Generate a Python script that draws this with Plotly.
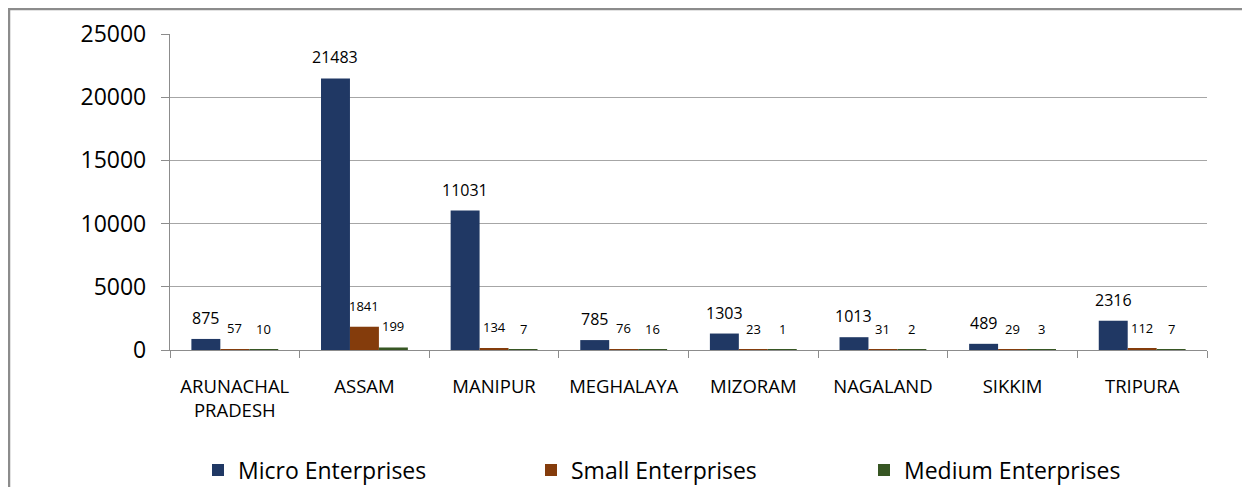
import plotly.graph_objects as go

states = ["ARUNACHAL<br>PRADESH", "ASSAM", "MANIPUR", "MEGHALAYA", "MIZORAM", "NAGALAND", "SIKKIM", "TRIPURA"]
micro = [875, 21483, 11031, 785, 1303, 1013, 489, 2316]
small = [57, 1841, 134, 76, 23, 31, 29, 112]
medium = [10, 199, 7, 16, 1, 2, 3, 7]
series_names = ["Micro Enterprises", "Small Enterprises", "Medium Enterprises"]
series_colors = ["#203864", "#843C0C", "#375623"]
y_ticks = [0, 5000, 10000, 15000, 20000, 25000]

# page has an 8px body margin; figure coords = page coords - 8
OFF = 8
W, H = 1250 - OFF, 487 - OFF
ML, MT = 170 - OFF, 34 - OFF
MR = W - (1207 - OFF)
MB = H - (350 - OFF)
PW, PH = W - ML - MR, H - MT - MB
BARGAP = 0.33
FONT = "Open Sans"

fig = go.Figure()
for name, vals, col in zip(series_names, [micro, small, medium], series_colors):
    fig.add_trace(go.Bar(x=states, y=vals, name=name, marker_color=col,
                         marker_line_width=0))

cat_px = PW / len(states)
bar_px = cat_px * (1 - BARGAP) / 3
annotations = []
for si, vals in enumerate([micro, small, medium]):
    for xi, v in zip(states, vals):
        annotations.append(dict(
            x=xi, y=v, xref="x", yref="y", text=str(v), showarrow=False,
            xshift=(si - 1) * bar_px, yshift=21, yanchor="middle",
            font=dict(family=FONT, size=16 if si == 0 else 13, color="#000000")))

def px2x(px):
    return (px - OFF - ML) / PW

def py2y(py):
    return (H - MB - (py - OFF)) / PH

shapes = [dict(type="rect", xref="paper", yref="paper",
               x0=px2x(OFF + 1.0), x1=px2x(1400), y0=py2y(OFF + 1.0), y1=py2y(700),
               line=dict(color="#8c8c8c", width=2.5), fillcolor="rgba(0,0,0,0)", layer="above")]

fig.update_layout(
    width=W, height=H,
    margin=dict(l=ML, r=MR, t=MT, b=MB, pad=0, autoexpand=False),
    paper_bgcolor="white", plot_bgcolor="white",
    barmode="group", bargap=BARGAP, bargroupgap=0,
    font=dict(family=FONT, color="#000000"),
    showlegend=True,
    legend=dict(orientation="h", x=px2x(198), xanchor="left", y=py2y(470), yanchor="middle",
                font=dict(family=FONT, size=23, color="#000000"),
                entrywidth=288, entrywidthmode="pixels", traceorder="normal",
                bgcolor="rgba(0,0,0,0)"),
    annotations=annotations,
    shapes=shapes,
    xaxis=dict(type="category", showline=True, linecolor="#8c8c8c", linewidth=1.3,
               ticks="outside", tickson="boundaries", ticklen=7, tickcolor="#8c8c8c",
               tickfont=dict(family=FONT, size=18.5, color="#000000"),
               ticklabelstandoff=20, showgrid=False, zeroline=False, automargin=False),
    yaxis=dict(range=[0, 25000], tickvals=y_ticks, ticktext=[str(t) for t in y_ticks],
               showline=True, linecolor="#8c8c8c", linewidth=1.3,
               ticks="outside", ticklen=8, tickcolor="#8c8c8c",
               showgrid=True, gridcolor="#a6a6a6", gridwidth=1, zeroline=False,
               tickfont=dict(family=FONT, size=23, color="#000000"),
               ticklabelstandoff=10, automargin=False),
)

fig.write_html("out.html")
